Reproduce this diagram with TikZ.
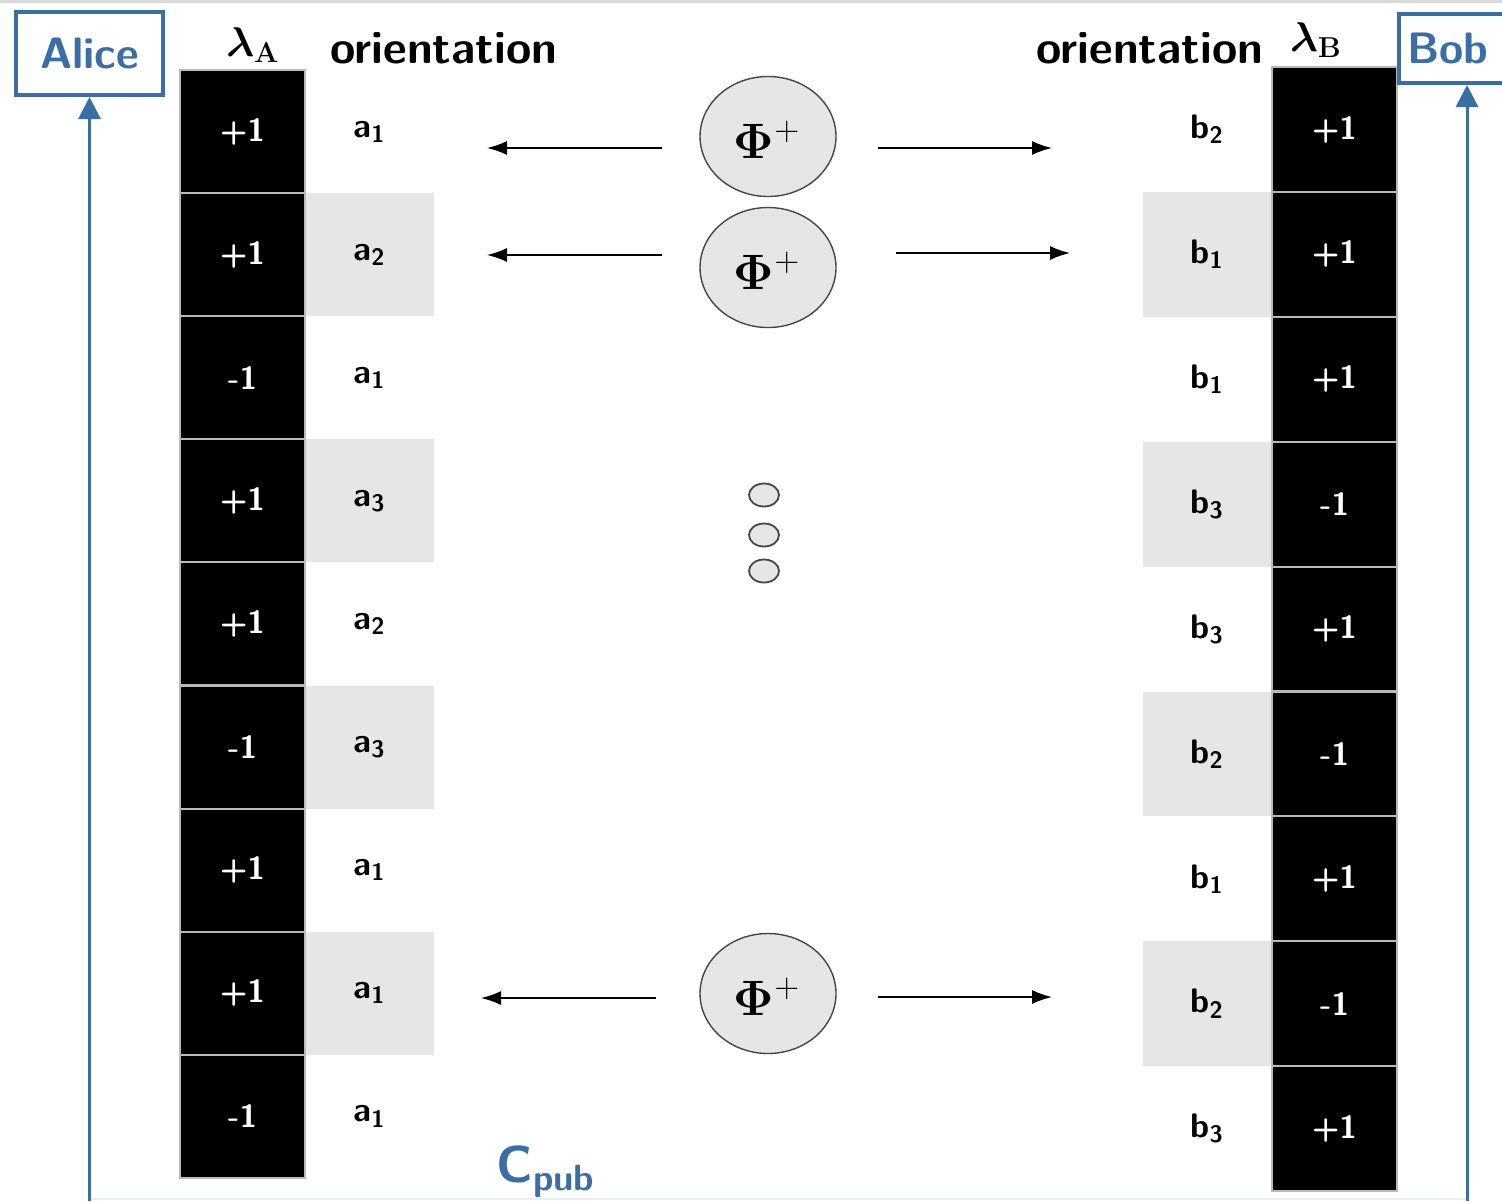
\documentclass[tikz,border=0pt]{standalone}
\usepackage{bm}
\usetikzlibrary{arrows.meta,shapes.geometric}
\definecolor{ablue}{RGB}{58,110,165}
\definecolor{cellgray}{RGB}{230,230,230}
\definecolor{ringgray}{RGB}{70,70,70}
\begin{document}
\begin{tikzpicture}[x=0.5pt,y=-0.5pt,
  valcell/.style={rectangle,fill=black,draw=gray!55,line width=1pt,
    minimum width=62.5pt,inner sep=0pt,text=white,
    font=\sffamily\bfseries\fontsize{16}{16}\selectfont},
  oricell/.style={rectangle,inner sep=0pt,minimum width=64pt,
    font=\sffamily\bfseries\fontsize{17}{17}\selectfont},
  shaded/.style={fill=cellgray},
  header/.style={font=\sffamily\bfseries\fontsize{23}{23}\selectfont},
  lambdalabel/.style={font=\fontsize{22}{22}\selectfont},
  party/.style={rectangle,draw=ablue,line width=2pt,text=ablue,inner sep=0pt,
    font=\sffamily\bfseries\fontsize{22}{22}\selectfont},
  pair/.style={ellipse,draw=ringgray,line width=0.7pt,fill=cellgray,
    minimum width=68pt,minimum height=60pt,inner sep=0pt},
  pairtext/.style={inner sep=0pt,font=\fontsize{24}{24}\selectfont},
  dot/.style={ellipse,draw=ringgray,line width=0.9pt,fill=cellgray,
    minimum width=15pt,minimum height=11.5pt,inner sep=0pt},
  send/.style={line width=0.8pt,-{Latex[length=10pt,width=7pt]}},
  report/.style={ablue,line width=1.5pt,-{Triangle[length=11pt,width=11pt]}},
]
\useasboundingbox (0,0) rectangle (1502,1201);

% frame remnants along the top and bottom edges
\draw[gray!30,line width=1.5pt] (0,1.5) -- (1502,1.5);
\draw[ablue!12,line width=1pt] (91,1199) -- (1467,1199);

% Alice's side: hidden variables and measurement orientations
\foreach \i/\v/\o/\s in {1/+1/1/0,2/+1/2/1,3/-1/1/0,4/+1/3/1,5/+1/2/0,
                         6/-1/3/1,7/+1/1/0,8/+1/1/1,9/-1/1/0}{
  \node[valcell,minimum height=61.5pt] (la\i) at (242.5,{70+123.1*(\i-0.5)}) {\v};
  \ifnum\s=1
    \node[oricell,shaded,minimum height=61.5pt] (oa\i) at (369.5,{70+123.1*(\i-0.5)}) {a\textsubscript{\o}};
  \else
    \node[oricell,minimum height=61.5pt] (oa\i) at (369.5,{70+123.1*(\i-0.5)}) {a\textsubscript{\o}};
  \fi
}

% Bob's side
\foreach \i/\v/\o/\s in {1/+1/2/0,2/+1/1/1,3/+1/1/0,4/-1/3/1,5/+1/3/0,
                         6/-1/2/1,7/+1/1/0,8/-1/2/1,9/+1/3/0}{
  \node[valcell,minimum height=62.4pt] (lb\i) at (1334.5,{67+124.9*(\i-0.5)}) {\v};
  \ifnum\s=1
    \node[oricell,shaded,minimum height=62.4pt] (ob\i) at (1207,{67+124.9*(\i-0.5)}) {b\textsubscript{\o}};
  \else
    \node[oricell,minimum height=62.4pt] (ob\i) at (1207,{67+124.9*(\i-0.5)}) {b\textsubscript{\o}};
  \fi
}

% column headers
\node[lambdalabel] (lamA) at (253,45) {$\bm{\lambda}_{\mathbf{A}}$};
\node[header] (oriA) at (444,48) {orientation};
\node[header] (oriB) at (1150,48) {orientation};
\node[lambdalabel] (lamB) at (1316,40) {$\bm{\lambda}_{\mathbf{B}}$};

% the two parties and their classical reports
\node[party,minimum width=73.5pt,minimum height=41.5pt] (alice) at (89.5,53.5) {Alice};
\node[party,minimum width=53.5pt,minimum height=34.5pt] (bob) at (1452.5,48.5) {\makebox[45pt][l]{Bob}};
\coordinate (abot) at (89.5,1201);
\coordinate (bbot) at (1467,1201);
\draw[report] (abot) -- (alice.south);
\draw[report] (bbot) -- (bbot |- bob.south);
\node[text=ablue,font=\sffamily\bfseries\fontsize{26}{26}\selectfont] (cpub) at (546,1172) {C\textsubscript{pub}};

% entangled pairs sent to both sides
\foreach \k/\y in {1/136.5,2/267.5,3/993.5}{
  \node[pair] (p\k) at (768,\y) {};
  \node[pairtext] (p\k t) at (767,\y+3) {$\mathbf{\Phi}^{+}$};
}
\node[dot] (d1) at (764,495) {};
\node[dot] (d2) at (764,535) {};
\node[dot] (d3) at (764,571) {};

\coordinate (s1l) at (662,148); \coordinate (t1l) at (487,148);
\coordinate (s1r) at (878,148); \coordinate (t1r) at (1052,148);
\coordinate (s2l) at (662,255); \coordinate (t2l) at (487,255);
\coordinate (s2r) at (896,253); \coordinate (t2r) at (1070,253);
\coordinate (s3l) at (656,998); \coordinate (t3l) at (481,998);
\coordinate (s3r) at (878,997); \coordinate (t3r) at (1052,997);
\foreach \k in {1,2,3}{
  \draw[send] (s\k l) -- (t\k l);
  \draw[send] (s\k r) -- (t\k r);
}
\end{tikzpicture}
\end{document}
